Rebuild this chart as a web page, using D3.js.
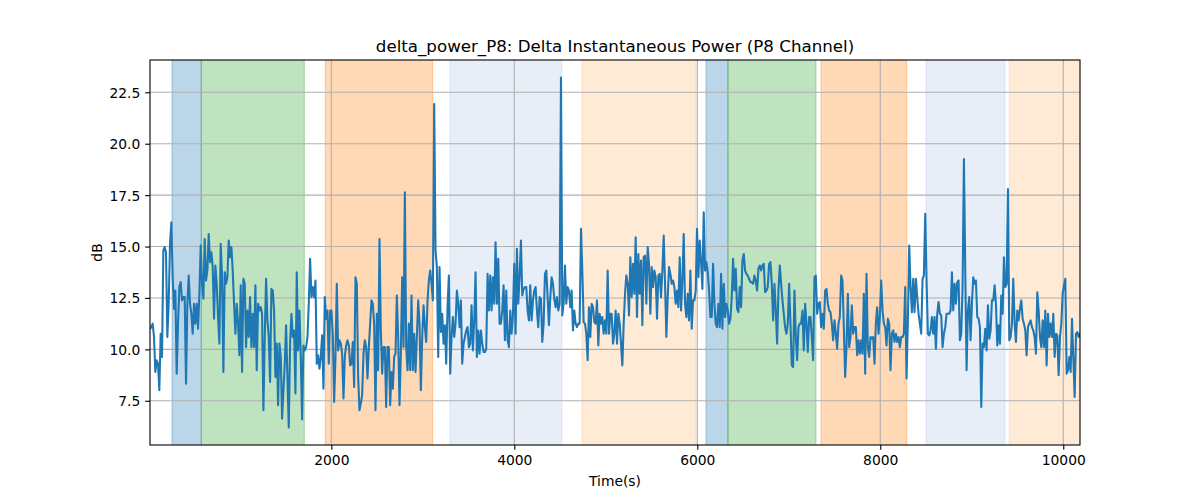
<!DOCTYPE html>
<html><head><meta charset="utf-8">
<script src="https://cdn.jsdelivr.net/npm/d3@7"></script>
<style>
body{margin:0;background:#fff}
svg{display:block}
text{font-family:"DejaVu Sans",sans-serif;fill:#000}
</style>
</head><body>
<svg id="chart" width="1200" height="500"></svg>
<script>
const chartTitle = "delta_power_P8: Delta Instantaneous Power (P8 Channel)";
const xLabel = "Time(s)";
const yLabel = "dB";

// sampling grid of the series (seconds)
const tStart = 18.5;
const tStep = 14.583;

// delta power values (dB)
const power = [
  // ~0 - 1000 s
  11.00,11.08,11.25,10.60,8.90,9.47,9.30,8.01,10.76,9.63,
  14.81,14.97,14.72,10.60,12.22,15.13,16.18,13.51,11.97,12.86,
  8.82,11.25,13.03,13.27,12.38,12.54,12.54,8.33,12.22,13.59,
  12.22,11.73,10.76,12.22,11.25,12.22,11.00,12.70,15.05,13.19,
  12.46,15.37,13.35,13.83,15.61,14.24,14.72,14.00,11.49,14.08,
  13.19,11.57,10.28,15.13,13.51,8.90,13.75,13.19,13.51,15.29,
  14.48,14.97,13.83,12.22,10.76,12.22,11.25,
  // ~1000 - 2000 s
  9.71,13.11,8.90,13.43,13.19,10.11,11.89,10.60,12.54,10.11,
  11.73,10.11,13.11,8.98,12.22,11.89,12.05,11.73,7.04,10.60,
  13.43,11.41,10.60,8.41,12.94,12.86,11.89,8.66,10.28,7.28,
  10.28,9.63,6.63,8.01,9.30,11.17,8.66,6.20,10.28,11.73,
  10.60,10.92,7.85,13.75,9.95,11.89,9.63,6.59,10.19,9.95,
  10.11,10.60,12.22,14.40,12.54,13.03,12.54,13.35,9.30,9.71,
  9.06,9.63,10.68,8.09,12.54,11.49,11.89,9.30,11.89,
  // ~2000 - 3000 s
  11.89,10.76,7.44,9.63,13.19,9.95,10.44,10.28,9.79,7.61,
  9.63,10.19,10.44,10.19,9.22,9.30,10.36,8.17,13.51,13.19,
  8.66,7.04,7.36,7.77,9.79,10.44,10.11,8.58,10.11,11.25,
  12.38,12.22,11.25,7.04,11.73,8.98,15.37,10.92,8.82,10.11,
  10.11,7.20,10.11,10.11,7.28,8.90,8.09,9.63,9.79,12.62,
  10.60,7.28,9.79,13.51,10.11,17.64,10.11,8.98,11.25,8.98,
  12.62,8.98,10.76,8.90,10.60,12.38,11.25,8.01,10.60,
  // ~3000 - 4000 s
  12.14,11.08,10.36,12.38,13.35,13.83,13.19,12.38,21.93,14.81,
  14.00,9.63,14.00,10.84,11.73,10.28,11.17,9.30,12.05,13.59,
  8.82,10.60,11.57,10.60,11.25,12.86,12.22,11.08,12.38,9.30,
  10.28,10.60,10.92,11.08,10.11,10.28,12.14,9.95,11.41,13.75,
  9.63,10.92,9.79,10.92,10.28,9.87,9.87,10.03,13.67,11.89,
  13.59,11.89,13.51,12.22,15.21,12.22,14.40,11.25,11.25,11.89,
  13.11,10.44,12.86,10.44,10.11,11.89,10.76,11.65,14.16,
  // ~4000 - 5000 s
  10.76,14.89,12.22,13.51,15.29,12.62,12.94,13.03,13.03,11.89,
  11.41,13.11,11.41,12.38,12.86,13.03,11.89,11.08,12.54,12.46,
  10.36,11.25,13.67,13.83,12.54,11.17,12.54,13.51,13.19,12.46,
  12.05,12.54,11.89,12.22,23.22,11.65,12.22,14.08,12.22,13.03,
  12.86,12.05,12.86,10.92,11.89,11.25,11.08,11.25,11.25,15.86,
  13.83,11.33,11.25,10.76,9.47,12.05,10.60,12.22,12.05,11.33,
  11.25,12.38,10.19,11.73,11.25,11.57,10.76,11.41,10.76,
  // ~5000 - 6000 s
  13.83,10.76,11.73,11.73,10.28,10.76,11.89,10.28,11.73,11.25,
  10.28,9.22,11.25,12.70,13.59,13.19,11.65,14.48,12.54,14.16,
  12.70,15.45,11.57,14.64,12.70,14.32,11.17,14.48,14.56,12.22,
  14.97,14.16,11.73,14.00,13.03,13.83,13.51,11.49,13.59,13.67,
  12.54,13.83,15.53,13.19,10.60,12.54,14.00,13.67,13.19,13.35,
  13.03,12.22,12.86,12.05,14.48,11.89,13.35,15.61,12.22,11.57,
  12.70,11.41,13.83,11.00,12.38,12.38,12.86,15.86,13.51,
  // ~6000 - 7000 s
  15.29,14.24,12.94,16.67,13.83,14.24,13.75,12.86,11.57,11.57,
  14.16,12.22,11.25,11.08,12.22,11.08,13.67,11.00,13.19,11.57,
  12.22,11.89,11.25,11.49,12.54,14.40,12.86,13.92,11.97,11.81,
  13.03,12.05,14.32,14.64,13.83,13.67,13.59,13.43,13.27,13.27,
  13.19,13.59,13.35,12.86,13.92,14.08,13.83,14.08,14.16,12.78,
  12.86,13.03,14.16,14.24,13.19,11.41,13.19,11.89,10.28,12.86,
  14.08,13.19,12.38,11.73,11.08,10.76,11.25,13.19,11.25,
  // ~7000 - 8000 s
  9.22,9.14,12.86,10.60,9.47,11.08,11.25,11.25,11.89,9.95,
  12.22,11.25,9.87,11.57,11.57,10.60,9.47,13.51,13.59,11.73,
  12.22,12.30,11.08,11.73,11.00,12.86,12.94,12.22,11.89,11.81,
  11.25,10.44,11.41,10.76,10.03,11.25,11.57,13.59,13.35,11.08,
  8.66,10.11,12.70,10.11,10.60,12.14,10.76,11.08,11.08,9.71,
  10.44,9.79,10.44,9.79,12.70,8.82,13.67,10.11,9.63,10.60,
  10.52,10.60,9.30,11.25,12.05,10.76,11.57,13.35,11.89,
  // ~8000 - 9000 s
  11.25,11.08,10.19,11.49,11.25,8.98,10.76,10.92,10.36,10.76,
  10.36,10.60,10.11,10.60,10.60,10.76,13.03,8.58,11.41,15.05,
  13.03,11.81,13.43,11.81,13.43,12.54,11.73,11.25,10.76,13.43,
  13.59,16.59,13.35,10.76,10.68,10.92,11.57,10.76,11.57,10.03,
  11.73,12.30,11.73,11.65,10.11,10.76,11.08,11.73,11.73,11.73,
  11.89,13.75,11.89,13.19,12.22,13.27,13.35,10.44,10.76,13.03,
  19.26,13.83,8.98,11.89,12.54,10.44,12.22,13.51,13.19,
  // ~9000 - 10180 s
  13.35,11.57,11.49,11.08,7.20,10.28,10.11,11.00,9.95,12.14,
  10.52,10.92,12.38,12.38,13.11,12.22,10.19,11.17,10.28,12.62,
  11.73,14.48,13.03,13.19,17.80,10.44,10.60,11.25,13.43,11.25,
  10.36,11.89,11.41,11.97,12.38,11.49,11.25,10.92,9.71,11.08,
  11.25,11.41,11.08,10.92,10.60,9.79,12.78,11.89,10.60,10.11,
  11.41,10.11,11.89,9.22,11.73,10.60,11.25,10.60,11.73,9.63,
  10.76,10.68,8.74,10.60,11.25,12.70,13.11,13.43,8.82,8.98,
  9.63,8.90,11.49,9.55,7.69,10.76,10.84,10.60,10.76
];

// shaded phases (seconds)
const spanStart = [259, 579, 1934, 3297, 4740, 6095, 6335, 7352, 8500, 9410];
const spanEnd   = [579, 1705, 3108, 4518, 5986, 6335, 7297, 8289, 9363, 10200];
const spanPhase = [0, 1, 2, 3, 4, 0, 1, 2, 3, 4];

const xTicks = [2000, 4000, 6000, 8000, 10000];
const yTicks = [7.5, 10, 12.5, 15, 17.5, 20, 22.5];

// ---------------- drawing ----------------
const phaseColors = ["#1f77b4", "#2ca02c", "#ff7f0e", "#aec7e8", "#ffbb78"];
const W = 1200, H = 500;
const m = {left: 150, right: 1080, top: 60, bottom: 445};
const times = power.map((_, i) => tStart + i * tStep);

const svg = d3.select("#chart");
svg.append("rect").attr("width", W).attr("height", H).attr("fill", "#fff");

const x = d3.scaleLinear().domain([times[0], times[times.length - 1]]).range([m.left, m.right]);
const [lo, hi] = d3.extent(power);
const pad = (hi - lo) * 0.05;
const y = d3.scaleLinear().domain([lo - pad, hi + pad]).range([m.bottom, m.top]);

svg.append("clipPath").attr("id", "clip").append("rect")
  .attr("x", m.left).attr("y", m.top)
  .attr("width", m.right - m.left).attr("height", m.bottom - m.top);

const plot = svg.append("g").attr("clip-path", "url(#clip)");

// spans
plot.append("g").selectAll("rect").data(spanStart).join("rect")
  .attr("x", (d) => x(d))
  .attr("width", (d, i) => x(spanEnd[i]) - x(d))
  .attr("y", m.top - 2)
  .attr("height", m.bottom - m.top + 4)
  .attr("fill", (d, i) => phaseColors[spanPhase[i]])
  .attr("fill-opacity", 0.3)
  .attr("stroke", (d, i) => phaseColors[spanPhase[i]])
  .attr("stroke-opacity", 0.3)
  .attr("stroke-width", 1.2);

// grid
const grid = plot.append("g").attr("stroke", "#b0b0b0").attr("stroke-width", 1.1);
grid.selectAll(".gx").data(xTicks).join("line").attr("class", "gx")
  .attr("x1", (d) => x(d)).attr("x2", (d) => x(d))
  .attr("y1", m.top).attr("y2", m.bottom);
grid.selectAll(".gy").data(yTicks).join("line").attr("class", "gy")
  .attr("y1", (d) => y(d)).attr("y2", (d) => y(d))
  .attr("x1", m.left).attr("x2", m.right);

// series line
const line = d3.line().x((d, i) => x(times[i])).y((d) => y(d));
plot.append("path").datum(power)
  .attr("d", line)
  .attr("fill", "none")
  .attr("stroke", "#1f77b4")
  .attr("stroke-width", 2.08)
  .attr("stroke-linejoin", "round")
  .attr("stroke-linecap", "square");

// axes
const fs = 13.89;
const xAxis = d3.axisBottom(x).tickValues(xTicks).tickFormat(d3.format("d"))
  .tickSize(4.86).tickPadding(4.86);
const gx = svg.append("g").attr("transform", `translate(0,${m.bottom})`).call(xAxis);
gx.select(".domain").remove();
gx.selectAll("line").attr("stroke", "#000").attr("stroke-width", 1.1);
gx.selectAll("text").attr("font-size", fs).attr("font-family", "DejaVu Sans").attr("fill", "#000")
  .attr("dy", "0.76em");

const yAxis = d3.axisLeft(y).tickValues(yTicks).tickFormat(d3.format(".1f"))
  .tickSize(4.86).tickPadding(4.86);
const gy = svg.append("g").attr("transform", `translate(${m.left},0)`).call(yAxis);
gy.select(".domain").remove();
gy.selectAll("line").attr("stroke", "#000").attr("stroke-width", 1.1);
gy.selectAll("text").attr("font-size", fs).attr("font-family", "DejaVu Sans").attr("fill", "#000")
  .attr("dy", "0.36em");

// spines
svg.append("rect")
  .attr("x", m.left).attr("y", m.top)
  .attr("width", m.right - m.left).attr("height", m.bottom - m.top)
  .attr("fill", "none").attr("stroke", "#000").attr("stroke-width", 1.1);

// labels
svg.append("text").attr("x", (m.left + m.right) / 2).attr("y", 51.7)
  .attr("text-anchor", "middle").attr("font-size", 16.67).text(chartTitle);
svg.append("text").attr("x", (m.left + m.right) / 2).attr("y", 485.5)
  .attr("text-anchor", "middle").attr("font-size", fs).text(xLabel);
svg.append("text").attr("transform", `translate(101.5,${(m.top + m.bottom) / 2}) rotate(-90)`)
  .attr("text-anchor", "middle").attr("font-size", fs).text(yLabel);
</script>
</body></html>
